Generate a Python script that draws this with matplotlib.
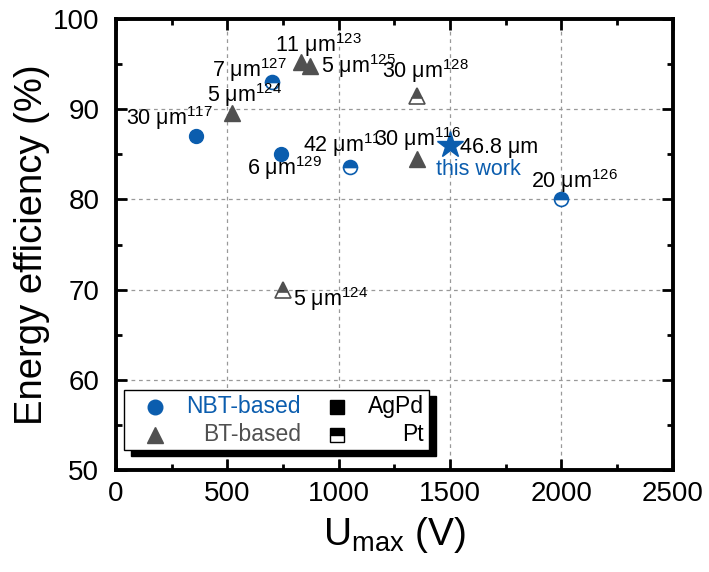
import matplotlib
matplotlib.use('Agg')
import matplotlib.pyplot as plt
from matplotlib.patches import Rectangle

plt.rcParams['font.family'] = ['Liberation Sans', 'DejaVu Sans']
plt.rcParams['mathtext.fontset'] = 'custom'
plt.rcParams['mathtext.rm'] = 'Liberation Sans'
plt.rcParams['mathtext.it'] = 'Liberation Sans:italic'

BLUE = '#0B5DAE'
GRAY = '#505050'

# NBT-based, AgPd electrodes (filled circles)
nbt_agpd_x = [360, 740]
nbt_agpd_y = [87.0, 85.0]
# NBT-based, Pt electrodes (half circles)
nbt_pt_x = [700, 1050, 2000]
nbt_pt_y = [93.0, 83.6, 80.0]
# BT-based, AgPd
bt_agpd_x = [520, 830, 870, 1350]
bt_agpd_y = [89.6, 95.2, 94.8, 84.5]
# BT-based, Pt
bt_pt_x = [1350, 750]
bt_pt_y = [91.5, 70.0]
# this work
work_x = [1500]
work_y = [86.0]

# labels: text, x, y (data coords of left start / baseline)
label_txt = ['30 μm$^{117}$', '7 μm$^{127}$', '5 μm$^{124}$', '11 μm$^{123}$',
             '5 μm$^{125}$', '30 μm$^{128}$', '42 μm$^{11}$', '30 μm$^{116}$',
             '46.8 μm', '20 μm$^{126}$', '6 μm$^{129}$', '5 μm$^{124}$']
label_x = [45, 431, 409, 714, 920, 1194, 840, 1158, 1545, 1863, 588, 795]
label_y = [88.2, 93.6, 90.8, 96.3, 94.0, 93.5, 85.3, 85.9, 85.1, 81.3, 82.7, 68.2]

fig = plt.figure(figsize=(7.09, 5.72), dpi=100)
ax = fig.add_axes([0.1636, 0.1783, 0.7854, 0.7885])

ax.plot(nbt_agpd_x, nbt_agpd_y, 'o', color=BLUE, ms=10, mec=BLUE, zorder=5)
ax.plot(nbt_pt_x, nbt_pt_y, 'o', color=BLUE, ms=10, mec=BLUE, mew=1.2,
        fillstyle='top', markerfacecoloralt='white', zorder=5)
ax.plot(bt_agpd_x, bt_agpd_y, '^', color=GRAY, ms=11, mec=GRAY, zorder=5)
ax.plot(bt_pt_x, bt_pt_y, '^', color=GRAY, ms=11, mec=GRAY, mew=1.2,
        fillstyle='top', markerfacecoloralt='white', zorder=5)
ax.plot(work_x, work_y, '*', color=BLUE, ms=20, mec=BLUE, zorder=6)

for t, x, y in zip(label_txt, label_x, label_y):
    ax.text(x, y, t, fontsize=15.5, ha='left', va='baseline', zorder=7)
ax.text(1437, 82.7, 'this work', fontsize=15.5, color=BLUE, ha='left', va='baseline')

ax.set_xlim(0, 2500)
ax.set_ylim(50, 100)
ax.set_xticks([0, 500, 1000, 1500, 2000, 2500])
ax.set_yticks([50, 60, 70, 80, 90, 100])
ax.set_xticks(range(250, 2500, 500), minor=True)
ax.set_yticks(range(55, 100, 10), minor=True)
ax.tick_params(which='both', direction='in', top=True, right=True, width=2, labelsize=20)
ax.tick_params(which='major', length=8)
ax.tick_params(which='minor', length=4)
ax.tick_params(axis='x', pad=8)
ax.tick_params(axis='y', pad=12)
for s in ax.spines.values():
    s.set_linewidth(2.8)
ax.grid(True, which='major', ls=(0, (3, 3)), color='#999999', lw=0.9)

ax.set_xlabel('U$_{\\mathrm{max}}$ (V)', fontsize=28, labelpad=6)
ax.set_ylabel('Energy efficiency (%)', fontsize=27.5, labelpad=2)

# legend drawn by hand (Origin style, right aligned text, shadow)
tr = ax.transAxes
ax.add_patch(Rectangle((0.027, 0.030), 0.548, 0.133, transform=tr, color='black', zorder=8))
ax.add_patch(Rectangle((0.0144, 0.0443), 0.548, 0.133, transform=tr, fc='white',
                       ec='black', lw=1, zorder=9))
ax.plot([0.070], [0.140], 'o', color=BLUE, ms=10.5, transform=tr, zorder=10, clip_on=False)
ax.plot([0.070], [0.078], '^', color=GRAY, ms=11.5, transform=tr, zorder=10, clip_on=False)
ax.text(0.332, 0.140, 'NBT-based', color=BLUE, fontsize=16.5, ha='right', va='center',
        transform=tr, zorder=10)
ax.text(0.332, 0.078, 'BT-based', color=GRAY, fontsize=16.5, ha='right', va='center',
        transform=tr, zorder=10)
ax.plot([0.397], [0.140], 's', color='black', ms=9.5, transform=tr, zorder=10)
ax.plot([0.397], [0.078], 's', color='black', ms=9.5, mew=1, fillstyle='top',
        markerfacecoloralt='white', transform=tr, zorder=10)
ax.text(0.553, 0.140, 'AgPd', color='black', fontsize=16.5, ha='right', va='center',
        transform=tr, zorder=10)
ax.text(0.553, 0.078, 'Pt', color='black', fontsize=16.5, ha='right', va='center',
        transform=tr, zorder=10)

fig.savefig('out.png', dpi=100)
